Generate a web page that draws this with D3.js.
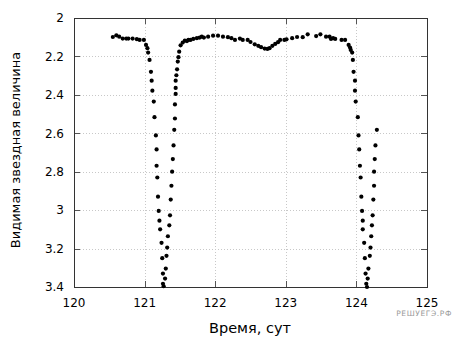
<!DOCTYPE html>
<html><head><meta charset="utf-8">
<script src="https://cdn.jsdelivr.net/npm/d3@7"></script>
<style>body{margin:0;background:#fff}svg{display:block}text{font-family:"DejaVu Sans",sans-serif}</style>
</head><body>
<svg id="c" width="457" height="340"></svg>
<script>
const xTicks = [120,121,122,123,124,125];
const yTicks = [2,2.2,2.4,2.6,2.8,3,3.2,3.4];
const yTickLabels = ["2","2.2","2.4","2.6","2.8","3","3.2","3.4"];
const times = [
120.55,120.60,120.64,120.69,120.74,120.77,120.83,120.89,120.93,120.99,
121.02,121.04,121.05,121.07,121.09,121.10,121.11,121.13,121.14,121.16,121.17,121.17,
121.18,121.19,121.20,121.21,121.22,121.24,121.25,121.26,121.26,121.27,
121.29,121.30,121.31,121.32,121.33,121.35,121.36,121.37,121.38,121.39,
121.40,121.41,121.42,121.43,121.43,121.44,121.44,121.44,121.45,121.46,121.47,121.48,121.49,
121.51,121.54,121.57,121.60,121.62,121.65,121.69,121.74,121.78,121.81,121.84,121.90,121.97,122.04,122.11,
122.18,122.23,122.28,122.35,122.39,122.46,122.50,122.56,122.61,122.65,122.70,122.74,122.77,122.81,122.85,122.89,122.92,
122.98,123.01,123.09,123.16,123.24,123.31,123.43,123.49,123.57,123.62,123.64,123.67,123.70,123.79,123.84,
123.89,123.91,123.92,123.94,123.95,123.96,123.98,123.98,123.99,124.02,124.03,124.04,124.05,
124.06,124.07,124.08,124.09,124.09,124.11,124.12,124.13,124.14,124.15,
124.16,124.17,124.19,124.20,124.21,124.22,124.23,124.24,124.25,124.25,
124.26,124.27,124.29];
const magnitudes = [
2.099,2.090,2.097,2.107,2.107,2.107,2.107,2.110,2.114,2.114,
2.140,2.157,2.180,2.218,2.280,2.326,2.378,2.435,2.516,2.611,2.684,2.769,
2.830,2.930,3.004,3.055,3.100,3.170,3.250,3.330,3.383,3.396,
3.356,3.304,3.238,3.195,3.136,3.079,3.027,2.945,2.873,2.800,
2.734,2.663,2.582,2.523,2.450,2.395,2.364,2.326,2.298,2.267,2.227,2.204,2.175,
2.142,2.128,2.118,2.120,2.114,2.114,2.109,2.105,2.102,2.097,2.102,2.097,2.092,2.092,2.097,
2.100,2.105,2.114,2.107,2.114,2.114,2.125,2.137,2.145,2.152,2.159,2.161,2.157,2.145,2.135,2.126,2.114,
2.114,2.111,2.105,2.099,2.100,2.085,2.094,2.085,2.097,2.097,2.109,2.105,2.109,2.114,2.114,
2.140,2.154,2.166,2.180,2.218,2.280,2.326,2.378,2.435,2.516,2.611,2.684,2.769,
2.830,2.930,3.004,3.055,3.100,3.170,3.250,3.330,3.383,3.400,
3.356,3.304,3.238,3.195,3.136,3.079,3.027,2.945,2.873,2.800,
2.734,2.663,2.582];

const L=74,R=427,T=18,B=287;
const svg=d3.select("#c");
const x=d3.scaleLinear().domain([120,125]).range([L,R]);
const y=d3.scaleLinear().domain([2,3.4]).range([T,B]);

// grid
const g=svg.append("g");
g.selectAll("line.vx").data(xTicks.slice(1,-1)).join("line")
 .attr("x1",d=>Math.round(x(d))+0.5).attr("x2",d=>Math.round(x(d))+0.5).attr("y1",T).attr("y2",B)
 .attr("stroke","#c8c8c8").attr("stroke-dasharray","1,2");
g.selectAll("line.hy").data(yTicks.slice(1,-1)).join("line")
 .attr("y1",d=>Math.round(y(d))+0.5).attr("y2",d=>Math.round(y(d))+0.5).attr("x1",L).attr("x2",R)
 .attr("stroke","#c8c8c8").attr("stroke-dasharray","1,2");

// tick marks (inward, all sides)
const tl=6, tc="#555";
xTicks.forEach(d=>{
  const xx=Math.round(x(d))+0.5;
  svg.append("line").attr("x1",xx).attr("x2",xx).attr("y1",B).attr("y2",B-tl).attr("stroke",tc);
  svg.append("line").attr("x1",xx).attr("x2",xx).attr("y1",T).attr("y2",T+tl).attr("stroke",tc);
});
yTicks.forEach(d=>{
  const yy=Math.round(y(d))+0.5;
  svg.append("line").attr("x1",L).attr("x2",L+tl).attr("y1",yy).attr("y2",yy).attr("stroke",tc);
  svg.append("line").attr("x1",R).attr("x2",R-tl).attr("y1",yy).attr("y2",yy).attr("stroke",tc);
});

// frame
svg.append("rect").attr("x",L+0.5).attr("y",T+0.5).attr("width",R-L).attr("height",B-T)
 .attr("fill","none").attr("stroke","#333");

// labels
svg.selectAll("text.xl").data(xTicks).join("text")
 .attr("x",d=>x(d)).attr("y",307).attr("text-anchor","middle").attr("font-size",12).attr("fill","#000").text(d=>d);
svg.selectAll("text.yl").data(yTicks).join("text")
 .attr("x",64).attr("y",d=>y(d)).attr("dy","0.36em").attr("text-anchor","end").attr("font-size",12).attr("fill","#000")
 .text((d,i)=>yTickLabels[i]);

svg.append("text").attr("x",250).attr("y",333).attr("text-anchor","middle").attr("font-size",14.5).text("Время, сут");
svg.append("text").attr("transform","translate(20,150) rotate(-90)").attr("text-anchor","middle")
 .attr("font-size",13).text("Видимая звездная величина");

svg.append("text").attr("x",452).attr("y",316).attr("text-anchor","end").attr("font-size",7.5)
 .attr("fill","#999").attr("letter-spacing","0.6").text("РЕШУЕГЭ.РФ");

// points
svg.append("g").selectAll("circle").data(times).join("circle")
 .attr("cx",d=>x(d)).attr("cy",(d,i)=>y(magnitudes[i])).attr("r",2.1).attr("fill","#000");
</script>
</body></html>
